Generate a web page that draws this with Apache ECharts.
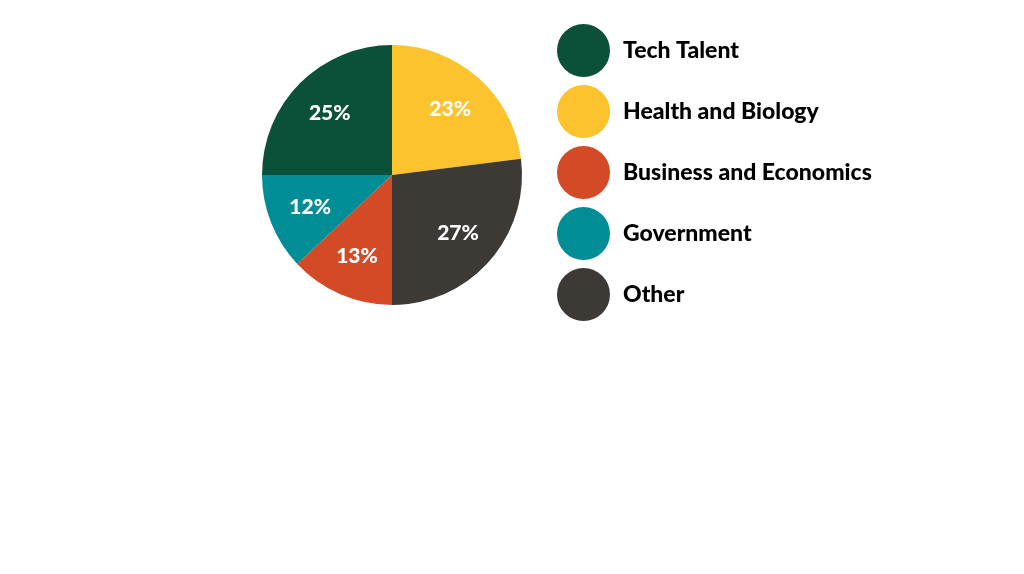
<!DOCTYPE html>
<html>
<head>
<meta charset="utf-8">
<script src="https://cdn.jsdelivr.net/npm/echarts@6/dist/echarts.min.js"></script>
<style>
html, body { margin: 0; padding: 0; background: #fff; }
#chart { width: 1024px; height: 574px; }
</style>
</head>
<body>
<div id="chart"></div>
<script>
// slices, clockwise from 12 o'clock
const sliceNames = ['Health and Biology', 'Other', 'Business and Economics', 'Government', 'Tech Talent'];
const sliceValues = [23, 27, 13, 12, 25];
const sliceColors = ['#fcc32e', '#3d3a35', '#d34a27', '#008d96', '#0b5039'];
const legendOrder = ['Tech Talent', 'Health and Biology', 'Business and Economics', 'Government', 'Other'];

const font = 'Lato, sans-serif';

const pieData = sliceNames.map((name, i) => ({
    name: name,
    value: sliceValues[i],
    itemStyle: { color: sliceColors[i] }
}));

const chart = echarts.init(document.getElementById('chart'));
chart.setOption({
    animation: false,
    legend: {
        orient: 'vertical',
        left: 557,
        top: 24,
        padding: 0,
        icon: 'circle',
        itemWidth: 53,
        itemHeight: 53,
        itemGap: 8,
        data: legendOrder,
        selectedMode: false,
        textStyle: {
            fontFamily: font,
            fontWeight: 900,
            fontSize: 23,
            color: '#000',
            padding: [0, 0, 0, 8]
        }
    },
    series: [
        {
            type: 'pie',
            center: [392, 175],
            radius: [0, 130],
            startAngle: 90,
            clockwise: true,
            label: { show: false },
            labelLine: { show: false },
            emphasis: { disabled: true },
            data: pieData
        },
        {
            // label layer only, puts the percentages further out than the default inside spot
            type: 'pie',
            center: [392, 175],
            radius: [40, 130],
            startAngle: 90,
            clockwise: true,
            silent: true,
            legendHoverLink: false,
            itemStyle: { color: 'rgba(0,0,0,0)' },
            label: {
                show: true,
                position: 'inside',
                formatter: '{c}%',
                color: '#fff',
                fontFamily: font,
                fontWeight: 900,
                fontSize: 21
            },
            labelLine: { show: false },
            emphasis: { disabled: true },
            data: sliceNames.map((name, i) => ({ name: name, value: sliceValues[i] }))
        }
    ]
});
</script>
</body>
</html>
